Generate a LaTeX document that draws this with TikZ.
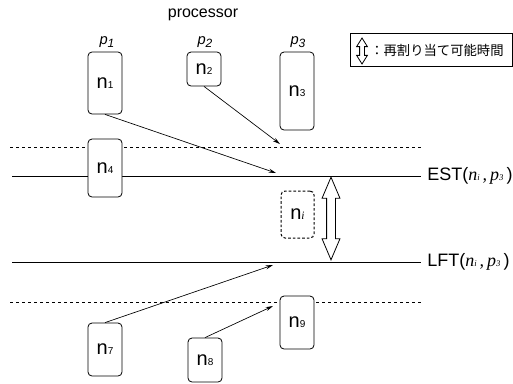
\documentclass[tikz,border=0pt]{standalone}
\usepackage{fontspec}
\setmainfont{Liberation Sans}
\newfontfamily\tms{Liberation Serif}
\newfontfamily\jp{Noto Sans CJK JP}
\usetikzlibrary{arrows.meta,shapes.arrows}

\newcommand{\tname}[1]{\fontsize{15}{18}\selectfont n{\fontsize{7.5}{9}\selectfont #1}}
\newcommand{\pname}[1]{\fontsize{11}{13}\selectfont\itshape p\raisebox{-2.5pt}{\fontsize{9}{10}\selectfont #1}}
\newcommand{\bound}[1]{\fontsize{13.5}{16}\selectfont #1({\tms\itshape n{\fontsize{6.5}{8}\selectfont i}\,,\,p{\fontsize{6.5}{8}\selectfont 3}}\,)}

\begin{document}
\begin{tikzpicture}[x=0.75pt, y=-0.75pt,
    task/.style={draw, fill=white, rounded corners=3pt, line width=0.6pt, inner sep=0pt, minimum width=25.5pt},
    guide/.style={line width=0.5pt, dash pattern=on 2.25pt off 2.25pt},
    edge/.style={line width=0.5pt, -{Stealth[length=5.5pt, width=3pt]}},
    bar/.style={double arrow, draw, fill=white, line width=0.6pt, rotate=90, inner xsep=0pt}]
    \useasboundingbox (0,0) rectangle (513,383);

    \draw[guide] (10,147) -- (422,147);
    \draw[line width=0.6pt] (12,176) -- (421,176);
    \draw[line width=0.6pt] (12,262) -- (421,262);
    \draw[guide] (10,302) -- (422,302);

    \node at (203,15) (proc) {\fontsize{12}{14}\selectfont processor};
    \node at (107,42) (lp1) {\pname{1}};
    \node at (205,42) (lp2) {\pname{2}};
    \node at (298,42) (lp3) {\pname{3}};

    \node at (105,83) [task, minimum height=46.5pt] (n1) {\tname{1}};
    \node at (204,69) [task, minimum height=25.5pt] (n2) {\tname{2}};
    \node at (297,91) [task, minimum height=58.5pt] (n3) {\tname{3}};
    \node at (105,168) [task, minimum height=43.5pt] (n4) {\tname{4}};
    \node at (297.5,214.5) [task, line width=0.75pt, dash pattern=on 2pt off 1.5pt, minimum width=24.75pt, minimum height=35.25pt] (ni) {\fontsize{15}{18}\selectfont n{\tms\itshape\fontsize{8.5}{10}\selectfont i}};
    \node at (105,349.5) [task, minimum height=39.75pt] (n7) {\tname{7}};
    \node at (205,360) [task, minimum height=33pt] (n8) {\tname{8}};
    \node at (297,322.5) [task, minimum height=39.75pt] (n9) {\tname{9}};

    \node at (427,176) [anchor=west, inner sep=0pt] (est) {\bound{EST}};
    \node at (427,262) [anchor=west, inner sep=0pt] (lft) {\bound{LFT}};

    \node at (331,218.5) [bar, inner ysep=3pt, minimum height=62pt, double arrow head extend=3.4pt, double arrow tip angle=46] (win) {};

    \coordinate (e1) at (276,173);
    \coordinate (e2) at (280,144);
    \coordinate (e7) at (273,265);
    \coordinate (e8) at (273,306);
    \draw[edge] (n1.south) -- (e1);
    \draw[edge] (n2.south) -- (e2);
    \draw[edge] (n7.north) -- (e7);
    \draw[edge] (n8.north) -- (e8);

    \draw[line width=0.6pt] (350,33) rectangle (512,66);
    \node at (362,51) [bar, inner ysep=1.5pt, minimum height=19.5pt, double arrow head extend=2.25pt, double arrow tip angle=64] (key) {};
    \node at (370,50) [anchor=west, inner sep=0pt] (keytext) {\jp\fontsize{10}{12}\selectfont ：再割り当て可能時間};
\end{tikzpicture}
\end{document}
